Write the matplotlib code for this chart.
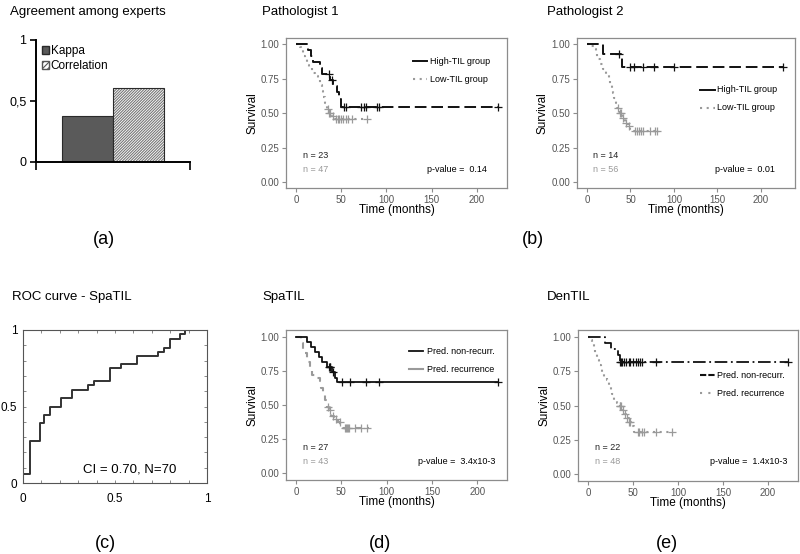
import numpy as np
import matplotlib
matplotlib.use('Agg')
import matplotlib.pyplot as plt
from matplotlib.lines import Line2D
from matplotlib.patches import Patch

plt.rcParams['font.family'] = ['Liberation Sans', 'DejaVu Sans']
plt.rcParams['hatch.linewidth'] = 0.8

W, H = 800, 554

# ---------------- data ----------------
agree_series = ['Kappa', 'Correlation']
agree_values = [0.38, 0.61]
agree_yticks = [0, 0.5, 1]
agree_yticklabels = ['0', '0,5', '1']

roc_fpr = [0, 0.036, 0.091, 0.115, 0.149, 0.205, 0.267, 0.355, 0.387, 0.473,
           0.533, 0.618, 0.736, 0.767, 0.8, 0.855, 0.878, 1.0]
roc_tpr = [0, 0.057, 0.277, 0.389, 0.443, 0.498, 0.555, 0.611, 0.641, 0.666,
           0.75, 0.777, 0.832, 0.857, 0.883, 0.943, 0.971, 1.0]
roc_ticks = [0, 0.5, 1]
roc_ticklabels = ['0', '0.5', '1']

km_xticks = [0, 50, 100, 150, 200]
km_yticks = [0, 0.25, 0.5, 0.75, 1.0]
km_yticklabels = ['0.00', '0.25', '0.50', '0.75', '1.00']

# Pathologist 1
p1_high_t = [0, 13, 17, 19, 27, 29, 38, 41, 45, 47, 50, 223]
p1_high_s = [1.0, 0.957, 0.913, 0.870, 0.826, 0.783, 0.74, 0.70, 0.65, 0.60, 0.545, 0.545]
p1_high_c = [37, 40, 53, 55, 72, 75, 77, 90, 92, 223]
p1_low_t = [0, 4, 6, 8, 10, 12, 14, 18, 21, 24, 27, 29, 30, 32, 34, 36, 39, 42, 78]
p1_low_s = [1.0, 0.979, 0.957, 0.915, 0.894, 0.851, 0.83, 0.787, 0.766, 0.745,
            0.702, 0.66, 0.617, 0.574, 0.532, 0.50, 0.479, 0.455, 0.455]
p1_low_c = [35, 37, 38, 41, 44, 46, 48, 50, 52, 55, 58, 62, 78]

# Pathologist 2
p2_high_t = [0, 18, 40, 226]
p2_high_s = [1.0, 0.929, 0.836, 0.836]
p2_high_c = [37, 50, 54, 65, 77, 100, 226]
p2_low_t = [0, 5, 8, 10, 12, 15, 18, 22, 25, 27, 29, 30, 31, 33, 35, 38, 41, 44, 47, 50, 80]
p2_low_s = [1.0, 0.982, 0.964, 0.929, 0.893, 0.857, 0.821, 0.786, 0.75, 0.714, 0.679,
            0.643, 0.607, 0.571, 0.536, 0.50, 0.464, 0.43, 0.41, 0.375, 0.375]
p2_low_c = [36, 38, 39, 42, 45, 48, 55, 58, 60, 62, 65, 72, 78, 80]

# SpaTIL
sp_high_t = [0, 12, 16, 21, 25, 29, 34, 40, 43, 45, 223]
sp_high_s = [1.0, 0.963, 0.926, 0.889, 0.852, 0.815, 0.778, 0.74, 0.70, 0.67, 0.67]
sp_high_c = [36, 37, 38, 41, 51, 60, 77, 92, 223]
sp_low_t = [0, 5, 7, 8, 10, 12, 15, 18, 22, 26, 28, 30, 32, 34, 36, 39, 42, 46, 49, 52, 80]
sp_low_s = [1.0, 0.977, 0.953, 0.907, 0.884, 0.814, 0.767, 0.721, 0.698, 0.674, 0.628,
            0.581, 0.535, 0.488, 0.465, 0.42, 0.398, 0.375, 0.352, 0.33, 0.33]
sp_low_c = [35, 37, 41, 44, 48, 54, 55, 56, 57, 59, 65, 72, 78]

# DenTIL
dn_high_t = [0, 19, 26, 33, 36, 223]
dn_high_s = [1.0, 0.955, 0.909, 0.864, 0.818, 0.818]
dn_high_c = [36, 37, 38, 40, 42, 45, 47, 50, 53, 55, 58, 60, 75, 222]
dn_low_t = [0, 3, 5, 7, 8, 10, 12, 14, 16, 18, 21, 23, 25, 27, 29, 32, 35, 38, 40,
            42, 45, 48, 51, 93]
dn_low_s = [1.0, 0.979, 0.958, 0.917, 0.875, 0.833, 0.792, 0.771, 0.729, 0.708, 0.688,
            0.646, 0.604, 0.583, 0.542, 0.521, 0.50, 0.47, 0.44, 0.41, 0.38, 0.35,
            0.31, 0.31]
dn_low_c = [35, 36, 37, 39, 41, 43, 45, 47, 55, 57, 60, 62, 75, 93]

# ---------------- figure ----------------
fig = plt.figure(figsize=(8, 5.54), dpi=100)


def add_ax(l, t, r, b):
    return fig.add_axes([l / W, 1 - b / H, (r - l) / W, (b - t) / H])


def ftext(x, y, s, **kw):
    fig.text(x / W, 1 - y / H, s, **kw)


def fline(x0, x1, y, **kw):
    fig.add_artist(Line2D([x0 / W, x1 / W], [1 - y / H, 1 - y / H],
                          transform=fig.transFigure, **kw))


def km_axes(box, xlim, ylim):
    l, t, r, b = box
    ax = add_ax(*box)
    ax.set_xlim(xlim)
    ax.set_ylim(ylim)
    for sp in ax.spines.values():
        sp.set_color('#8c8c8c')
        sp.set_linewidth(0.9)
    ax.set_xticks(km_xticks)
    ax.set_yticks(km_yticks)
    ax.set_yticklabels(km_yticklabels)
    ax.tick_params(length=3, width=0.8, color='#8c8c8c', labelcolor='#555555',
                   labelsize=7, pad=2)
    ax.set_xlabel('Time (months)', fontsize=8.5)
    ax.set_ylabel('Survival', fontsize=8.5)
    ax.xaxis.set_label_coords(0.5, -16 / (b - t))
    ax.yaxis.set_label_coords(-28 / (r - l), 0.5)
    return ax


def km(ax, t, s, cens, color, ls, lw):
    ax.step(t, s, where='post', color=color, ls=ls, lw=lw)
    t_arr = np.asarray(t)
    cs = [s[np.searchsorted(t_arr, c, side='right') - 1] for c in cens]
    ax.plot(cens, cs, '+', color=color, ms=5.5, mew=0.9, ls='none')


BLACK = '#111111'
GRAY = '#9a9a9a'
DASH = (0, (6, 2.5))
DOT = (0, (1, 2.2))
SDASH = (0, (3, 3))
DASHDOT = (0, (7, 2, 1, 2))

# ---- (a) ----
ftext(10, 12, 'Agreement among experts', fontsize=9.5, va='center')
ax_a = add_ax(36, 40, 190, 162)
ax_a.set_xlim(-0.5, 0.5)
ax_a.set_ylim(0, 1)
w = 0.33
ax_a.bar(-w / 2, agree_values[0], width=w, color='#5a5a5a', edgecolor='#2a2a2a', lw=0.8)
ax_a.bar(w / 2, agree_values[1], width=w, color='white', edgecolor='#777777',
         hatch='/' * 12, lw=0)
ax_a.bar(w / 2, agree_values[1], width=w, fill=False, edgecolor='#2a2a2a', lw=0.8)
for k in ['top', 'right']:
    ax_a.spines[k].set_visible(False)
for k in ['left', 'bottom']:
    ax_a.spines[k].set_linewidth(1.4)
    ax_a.spines[k].set_color('black')
ax_a.set_yticks(agree_yticks)
ax_a.set_yticklabels(agree_yticklabels)
ax_a.set_xticks([-0.5, 0.5])
ax_a.set_xticklabels(['', ''])
ax_a.tick_params(axis='y', length=4, width=1.2, labelsize=9, pad=3)
ax_a.tick_params(axis='x', length=6, width=1.2)
ax_a.legend(handles=[Patch(facecolor='#5a5a5a', edgecolor='#2a2a2a'),
                     Patch(facecolor='white', edgecolor='#555555', hatch='//////')],
            labels=agree_series, loc='upper left',
            bbox_to_anchor=((42 - 36) / 154, 1 - (45 - 40) / 122),
            frameon=False, fontsize=8.5, handlelength=0.6, handleheight=0.6,
            handletextpad=0.15, borderpad=0, borderaxespad=0, labelspacing=0.25)
ftext(104, 240, '(a)', fontsize=13, ha='center', va='center')

# ---- (b) Pathologist 1 ----
ftext(262, 12, 'Pathologist 1', fontsize=9.5, va='center')
ax_b1 = km_axes((286, 38, 507, 188), (-11.0, 233.1), (-0.04, 1.043))
km(ax_b1, p1_low_t, p1_low_s, p1_low_c, GRAY, DOT, 1.5)
km(ax_b1, p1_high_t, p1_high_s, p1_high_c, BLACK, DASH, 1.4)
fline(413, 427, 61, color=BLACK, lw=1.4)
fline(413, 427, 79, color=GRAY, lw=1.5, ls=DOT)
ftext(430, 61, 'High-TIL group', fontsize=6.5, va='center')
ftext(430, 79, 'Low-TIL group', fontsize=6.5, va='center')
ftext(303, 155, 'n = 23', fontsize=6.5, va='center', color='#222222')
ftext(303, 169, 'n = 47', fontsize=6.5, va='center', color='#999999')
ftext(427, 169, 'p-value =  0.14', fontsize=6.5, va='center')

# ---- Pathologist 2 ----
ftext(547, 12, 'Pathologist 2', fontsize=9.5, va='center')
ax_b2 = km_axes((577, 38, 795, 188), (-11.5, 239.4), (-0.04, 1.043))
km(ax_b2, p2_low_t, p2_low_s, p2_low_c, GRAY, DOT, 1.5)
km(ax_b2, p2_high_t, p2_high_s, p2_high_c, BLACK, DASH, 1.4)
fline(700, 715, 90, color=BLACK, lw=1.4)
fline(700, 715, 108, color=GRAY, lw=1.5, ls=DOT)
ftext(717, 90, 'High-TIL group', fontsize=6.5, va='center')
ftext(717, 108, 'Low-TIL group', fontsize=6.5, va='center')
ftext(593, 155, 'n = 14', fontsize=6.5, va='center', color='#222222')
ftext(593, 169, 'n = 56', fontsize=6.5, va='center', color='#999999')
ftext(715, 169, 'p-value =  0.01', fontsize=6.5, va='center')
ftext(533, 240, '(b)', fontsize=13, ha='center', va='center')

# ---- (c) ROC ----
ftext(12, 297, 'ROC curve - SpaTIL', fontsize=9.5, va='center')
ax_c = add_ax(23, 330, 207, 483)
ax_c.step(roc_fpr, roc_tpr, where='pre', color='#333333', lw=1.4)
ax_c.set_xlim(0, 1)
ax_c.set_ylim(0, 1)
ax_c.set_xticks(roc_ticks)
ax_c.set_xticklabels(roc_ticklabels)
ax_c.set_yticks(roc_ticks)
ax_c.set_yticklabels(roc_ticklabels)
ax_c.set_xticks(np.arange(0, 1.01, 0.1), minor=True)
ax_c.set_yticks(np.arange(0, 1.01, 0.1), minor=True)
ax_c.tick_params(which='both', direction='in', top=True, right=True,
                 length=2.5, width=0.6, color='#777777')
ax_c.tick_params(axis='x', which='major', labelsize=8.5, pad=7)
ax_c.tick_params(axis='y', which='major', labelsize=8.5, pad=4)
for sp in ax_c.spines.values():
    sp.set_color('#555555')
    sp.set_linewidth(0.8)
ftext(83, 469, 'CI = 0.70, N=70', fontsize=9.5, va='center')
ftext(105, 543, '(c)', fontsize=13, ha='center', va='center')

# ---- (d) SpaTIL ----
ftext(262, 297, 'SpaTIL', fontsize=9.5, va='center')
ax_d = km_axes((286, 330, 507, 480), (-11.1, 232.9), (-0.049, 1.049))
km(ax_d, sp_low_t, sp_low_s, sp_low_c, GRAY, SDASH, 1.5)
km(ax_d, sp_high_t, sp_high_s, sp_high_c, BLACK, '-', 1.3)
fline(409, 423, 351, color=BLACK, lw=1.3)
fline(409, 423, 369, color=GRAY, lw=1.5)
ftext(427, 351, 'Pred. non-recurr.', fontsize=6.5, va='center')
ftext(427, 369, 'Pred. recurrence', fontsize=6.5, va='center')
ftext(303, 447, 'n = 27', fontsize=6.5, va='center', color='#222222')
ftext(303, 462, 'n = 43', fontsize=6.5, va='center', color='#999999')
ftext(418, 462, 'p-value =  3.4x10-3', fontsize=6.5, va='center')
ftext(380, 543, '(d)', fontsize=13, ha='center', va='center')

# ---- (e) DenTIL ----
ftext(547, 297, 'DenTIL', fontsize=9.5, va='center')
ax_e = km_axes((578, 330, 798, 481), (-11.1, 233.2), (-0.049, 1.049))
km(ax_e, dn_low_t, dn_low_s, dn_low_c, GRAY, DOT, 1.5)
km(ax_e, dn_high_t, dn_high_s, dn_high_c, BLACK, DASHDOT, 1.3)
fline(700, 715, 375, color=BLACK, lw=1.5, ls=(0, (3, 1)))
fline(700, 715, 393, color=GRAY, lw=1.5, ls=(0, (1, 3)))
ftext(717, 375, 'Pred. non-recurr.', fontsize=6.5, va='center')
ftext(717, 393, 'Pred. recurrence', fontsize=6.5, va='center')
ftext(595, 448, 'n = 22', fontsize=6.5, va='center', color='#222222')
ftext(595, 462, 'n = 48', fontsize=6.5, va='center', color='#999999')
ftext(710, 462, 'p-value =  1.4x10-3', fontsize=6.5, va='center')
ftext(667, 543, '(e)', fontsize=13, ha='center', va='center')

fig.savefig('out.png', dpi=100)
